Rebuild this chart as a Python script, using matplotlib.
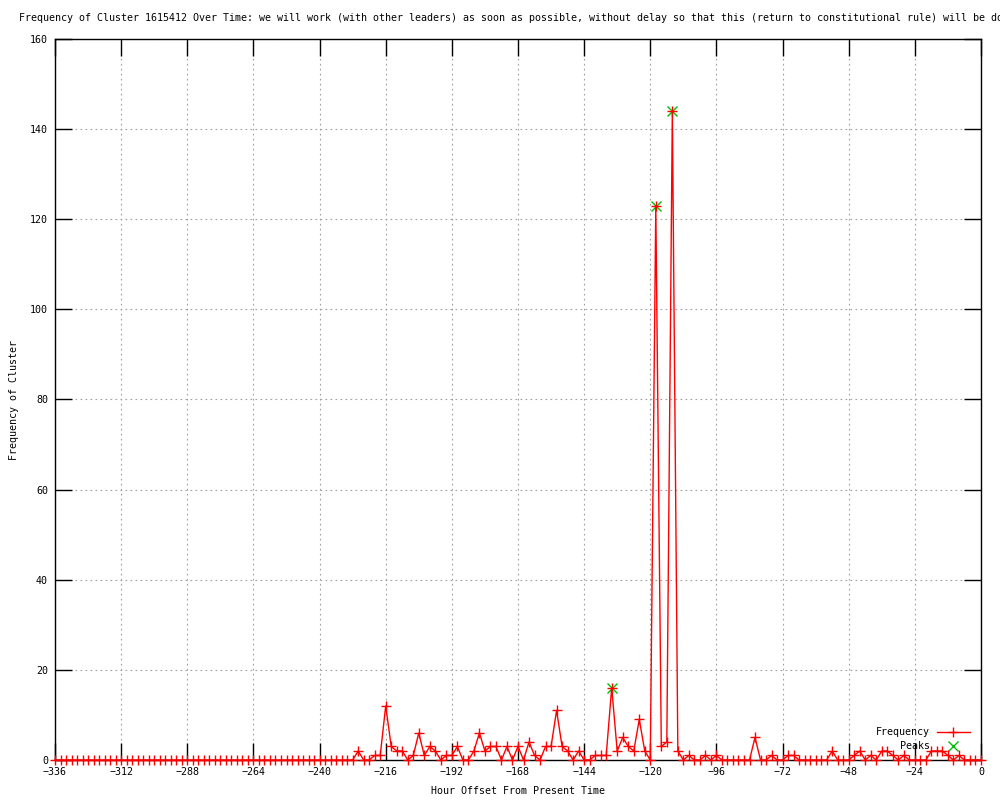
import numpy as np
import matplotlib
matplotlib.use('Agg')
import matplotlib.pyplot as plt

# hour offsets, every 2 hours over two weeks
hours = np.arange(-336, 1, 2)

# counts (only the non-zero stretch)
nonzero = {
    -226: 2, -220: 1, -218: 1, -216: 12, -214: 3, -212: 2, -210: 2,
    -206: 1, -204: 6, -202: 1, -200: 3, -198: 2, -194: 1, -192: 1,
    -190: 3, -184: 2, -182: 6, -180: 2, -178: 3, -176: 3, -172: 3,
    -168: 3, -164: 4, -162: 1, -158: 3, -156: 3, -154: 11, -152: 3,
    -150: 2, -146: 2, -140: 1, -138: 1, -136: 1, -134: 16, -132: 2,
    -130: 5, -128: 3, -126: 2, -124: 9, -122: 2, -118: 123, -116: 3,
    -114: 4, -112: 144, -110: 2, -106: 1, -100: 1, -96: 1, -82: 5,
    -76: 1, -70: 1, -68: 1, -54: 2, -46: 1, -44: 2, -40: 1, -36: 2,
    -34: 2, -32: 1, -28: 1, -18: 2, -16: 2, -14: 2, -12: 1, -8: 1,
}
freq = np.array([nonzero.get(h, 0) for h in hours])

peak_hours = [-134, -118, -112]
peak_vals = [16, 123, 144]

title = ("Frequency of Cluster 1615412 Over Time: we will work (with other leaders) "
         "as soon as possible, without delay so that this (return to constitutional rule) will be done")

plt.rcParams['font.family'] = ['DejaVu Sans Mono']
fs = 7.2

fig = plt.figure(figsize=(10, 8), dpi=100)
ax = fig.add_axes([0.055, 0.05, 0.926, 0.90125])

ax.plot(peak_hours, peak_vals, linestyle='none', marker='x', color='#00c000',
        markersize=6.5, mew=1, zorder=3, clip_on=False)
ax.plot(hours, freq, color='red', lw=1, marker='+', markersize=6.5, mew=1,
        zorder=4, clip_on=False)

ax.set_xlim(-336, 0)
ax.set_ylim(0, 160)
ax.set_xticks(np.arange(-336, 1, 24))
ax.set_yticks(np.arange(0, 161, 20))
ax.tick_params(direction='in', length=12, width=1, top=True, right=True,
               labelsize=fs, pad=5)
ax.grid(True, color='#a0a0a0', linestyle=(0, (1.5, 3)), lw=0.8)
for s in ax.spines.values():
    s.set_linewidth(1)

ax.set_xlabel('Hour Offset From Present Time', fontsize=fs)
ax.xaxis.set_label_coords(0.5, -0.036)
ax.set_ylabel('Frequency of Cluster', fontsize=fs)
ax.yaxis.set_label_coords(-0.039, 0.5)

fig.text(0.019, 0.9775, title, ha='left', va='center', fontsize=fs)

# gnuplot style key, labels right-justified
ax.text(0.945, 0.0388, 'Frequency', transform=ax.transAxes, ha='right', va='center', fontsize=fs)
ax.text(0.945, 0.0194, 'Peaks', transform=ax.transAxes, ha='right', va='center', fontsize=fs)
ax.plot([0.9525, 0.9881], [0.0388, 0.0388], color='red', lw=1, transform=ax.transAxes, clip_on=False)
ax.plot([0.9703], [0.0388], color='red', marker='+', markersize=6.5, mew=1, transform=ax.transAxes, clip_on=False)
ax.plot([0.9703], [0.0194], color='#00c000', marker='x', markersize=6.5, mew=1, transform=ax.transAxes, clip_on=False)

fig.savefig('out.png', dpi=100)
plt.close(fig)
